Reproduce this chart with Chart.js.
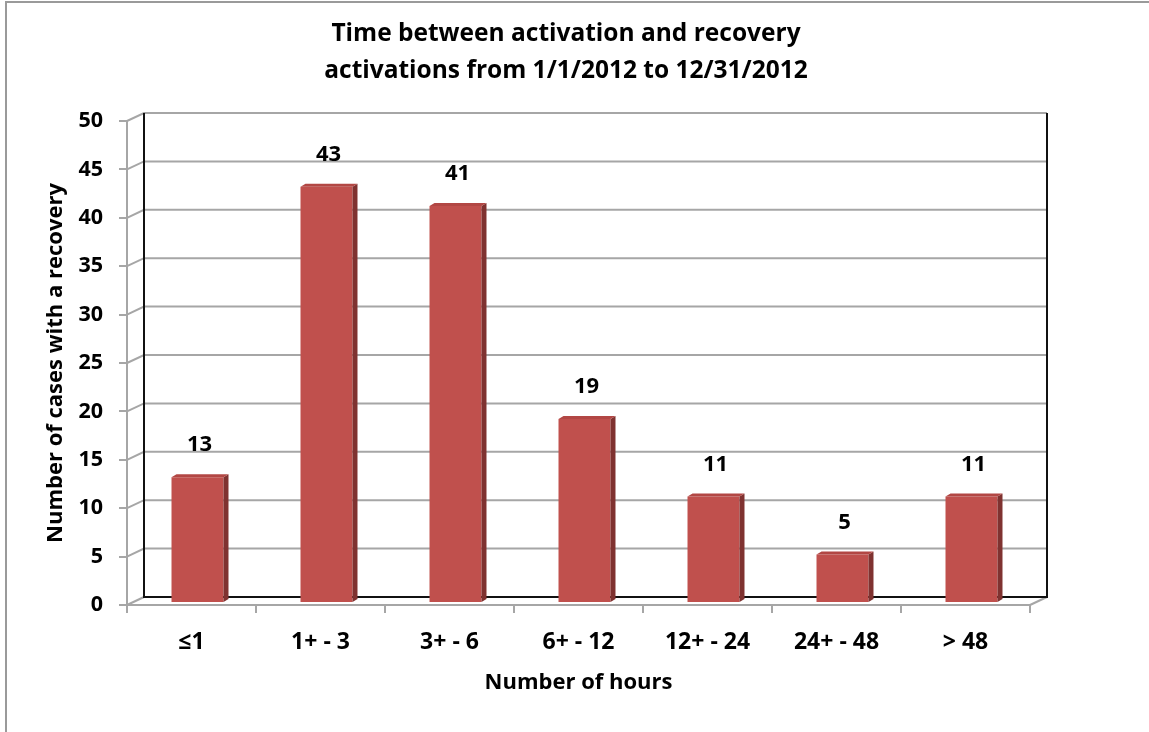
<!DOCTYPE html>
<html>
<head>
<meta charset="utf-8">
<script src="https://cdn.jsdelivr.net/npm/chart.js@4.4.1/dist/chart.umd.min.js"></script>
<style>
  html, body { margin: 0; padding: 0; background: #fff; }
  #wrap { width: 1149px; height: 732px; position: relative; }
</style>
</head>
<body>
<div id="wrap"><canvas id="chart" width="1149" height="732"></canvas></div>
<script>
const categories = ['≤1', '1+ - 3', '3+ - 6', '6+ - 12', '12+ - 24', '24+ - 48', '> 48'];
const cases = [13, 43, 41, 19, 11, 5, 11];
const yTicks = [0, 5, 10, 15, 20, 25, 30, 35, 40, 45, 50];

const FONT = '"Open Sans", Lato, sans-serif';
const DX = 17, DY = 8;          // depth of the back wall
const BDX = 5, BDY = 3;         // depth of each bar

// back wall, floor and frame
const wallPlugin = {
  id: 'wall',
  beforeDraw(chart) {
    const ctx = chart.ctx;
    ctx.save();
    ctx.strokeStyle = '#9a9a9a';
    ctx.lineWidth = 2;
    ctx.beginPath();
    ctx.moveTo(6, 740);
    ctx.lineTo(6, 2);
    ctx.lineTo(1160, 2);
    ctx.stroke();
    ctx.restore();
  },
  beforeDatasetsDraw(chart) {
    const { ctx, chartArea: a, scales: { y } } = chart;
    ctx.save();
    ctx.lineWidth = 2;
    yTicks.forEach(v => {
      const yf = y.getPixelForValue(v);
      ctx.strokeStyle = '#a6a6a6';
      ctx.beginPath();
      ctx.moveTo(a.left, yf);
      ctx.lineTo(a.left + DX, yf - DY);
      if (v !== 0) ctx.lineTo(a.right + DX, yf - DY);
      ctx.stroke();
    });
    ctx.strokeStyle = '#a6a6a6';
    ctx.beginPath();
    ctx.moveTo(a.right, a.bottom);
    ctx.lineTo(a.right + DX, a.bottom - DY);
    ctx.stroke();
    ctx.strokeStyle = '#111';
    ctx.beginPath();
    ctx.moveTo(a.left + DX, y.getPixelForValue(50) - DY);
    ctx.lineTo(a.left + DX, a.bottom - DY);
    ctx.lineTo(a.right + DX, a.bottom - DY);
    ctx.lineTo(a.right + DX, y.getPixelForValue(50) - DY);
    ctx.stroke();
    ctx.restore();
    ctx.save();
    ctx.translate(6, -2);
  },
  afterDatasetsDraw(chart) {
    const ctx = chart.ctx;
    const meta = chart.getDatasetMeta(0);
    meta.data.forEach((bar, i) => {
      const { x, y, base, width } = bar.getProps(['x', 'y', 'base', 'width'], true);
      const l = x - width / 2, r = x + width / 2;
      ctx.fillStyle = '#7f3230';
      ctx.beginPath();
      ctx.moveTo(r, y);
      ctx.lineTo(r + BDX, y - BDY);
      ctx.lineTo(r + BDX, base - BDY);
      ctx.lineTo(r, base);
      ctx.closePath();
      ctx.fill();
      ctx.fillStyle = '#b24744';
      ctx.beginPath();
      ctx.moveTo(l, y);
      ctx.lineTo(l + BDX, y - BDY);
      ctx.lineTo(r + BDX, y - BDY);
      ctx.lineTo(r, y);
      ctx.closePath();
      ctx.fill();
      ctx.fillStyle = '#000';
      ctx.font = 'bold 22px ' + FONT;
      ctx.textAlign = 'center';
      ctx.textBaseline = 'middle';
      ctx.fillText(String(cases[i]), x + 2, y - 32);
    });
    ctx.restore();
  }
};

new Chart(document.getElementById('chart'), {
  type: 'bar',
  data: {
    labels: categories,
    datasets: [{
      data: cases,
      backgroundColor: '#c0504d',
      borderWidth: 0,
      categoryPercentage: 1,
      barPercentage: 0.403
    }]
  },
  options: {
    responsive: false,
    animation: false,
    layout: { padding: { left: 0, right: 17, top: 16, bottom: 0 } },
    plugins: {
      legend: { display: false },
      tooltip: { enabled: false },
      title: {
        display: true,
        text: ['Time between activation and recovery', 'activations from 1/1/2012 to 12/31/2012'],
        color: '#000',
        font: { family: FONT, size: 24.5, weight: 'bold', lineHeight: 1.51 },
        padding: { top: 0, bottom: 31 }
      }
    },
    scales: {
      x: {
        afterFit: s => { s.height = 127; },
        grid: { drawOnChartArea: false, drawTicks: true, tickLength: 8, color: '#a6a6a6', lineWidth: 2 },
        border: { display: true, color: '#a6a6a6', width: 2 },
        ticks: { color: '#000', padding: 16, font: { family: FONT, size: 23, weight: 'bold' } },
        title: {
          display: true,
          text: 'Number of hours',
          color: '#000',
          font: { family: FONT, size: 22, weight: 'bold' },
          padding: { top: 0, bottom: 36 }
        }
      },
      y: {
        min: 0,
        max: 50,
        afterFit: s => { s.width = 127; },
        afterBuildTicks: s => { s.ticks = yTicks.map(v => ({ value: v })); },
        grid: { drawOnChartArea: false, drawTicks: true, tickLength: 8, color: '#a6a6a6', lineWidth: 2 },
        border: { display: true, color: '#a6a6a6', width: 2 },
        ticks: { color: '#000', padding: 16, font: { family: FONT, size: 21.5, weight: 'bold' } },
        title: {
          display: true,
          text: 'Number of cases with a recovery',
          color: '#000',
          font: { family: FONT, size: 22, weight: 'bold' },
          padding: { top: 43, bottom: 0 }
        }
      },
      // empty right-hand gutter so the plot ends where the original does
      y2: {
        position: 'right',
        display: true,
        afterFit: s => { s.width = 102; },
        grid: { display: false },
        border: { display: false },
        ticks: { display: false }
      }
    }
  },
  plugins: [wallPlugin]
});
</script>
</body>
</html>
